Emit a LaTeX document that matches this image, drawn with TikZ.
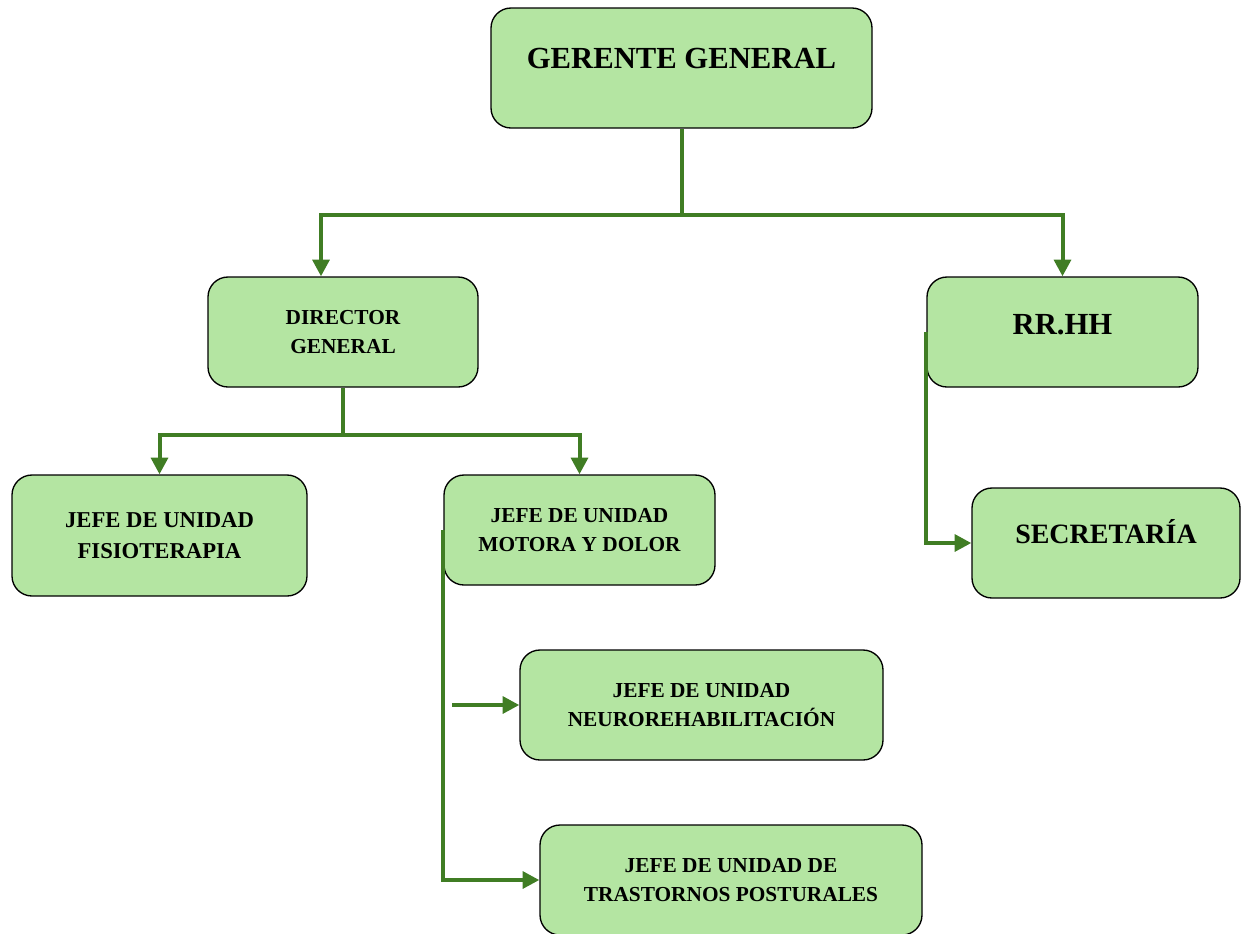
\documentclass[tikz,border=0pt]{standalone}
\usepackage{fontspec}
\setmainfont{Liberation Serif}
\usepackage{tikz}
\usetikzlibrary{arrows.meta, positioning, calc}
\definecolor{orgfill}{HTML}{B4E5A2}
\definecolor{orgline}{HTML}{407D24}

\tikzset{
  unit/.style={draw=black, line width=1pt, fill=orgfill, rounded corners=15pt,
    align=center, font=\bfseries\fontsize{16}{22}\selectfont},
  bigunit/.style={unit, font=\bfseries\fontsize{23}{28}\selectfont,
    text height=16pt, text depth=15pt},
  link/.style={orgline, line width=3pt},
  linkarrow/.style={link, -{Triangle[length=12.5pt, width=12.5pt]}}
}

\begin{document}
\begin{tikzpicture}[x=0.75pt, y=-0.75pt]
    \useasboundingbox (0,0) rectangle (1241,933);

    % Boxes
    \node[bigunit, minimum width=381*0.75pt, minimum height=120*0.75pt] (gerente) at (681.5,68) {GERENTE GENERAL};
    \node[unit, minimum width=270*0.75pt, minimum height=110*0.75pt, text depth=0pt] (director) at (343,332) {DIRECTOR\\GENERAL};
    \node[bigunit, minimum width=271*0.75pt, minimum height=110*0.75pt, text depth=12pt] (rrhh) at (1062.5,332) {RR.HH};
    \node[unit, minimum width=295*0.75pt, minimum height=121*0.75pt, font=\bfseries\fontsize{17}{23}\selectfont] (fisio) at (159.5,535.5) {JEFE DE UNIDAD\\FISIOTERAPIA};
    \node[unit, minimum width=271*0.75pt, minimum height=110*0.75pt] (motora) at (579.5,530) {JEFE DE UNIDAD\\MOTORA Y DOLOR};
    \node[bigunit, minimum width=268*0.75pt, minimum height=110*0.75pt, font=\bfseries\fontsize{21}{26}\selectfont] (secretaria) at (1106,543) {SECRETARÍA};
    \node[unit, minimum width=363*0.75pt, minimum height=110*0.75pt] (neuro) at (701.5,705) {JEFE DE UNIDAD\\NEUROREHABILITACIÓN};
    \node[unit, minimum width=382*0.75pt, minimum height=110*0.75pt] (trastornos) at (731,880) {JEFE DE UNIDAD DE\\TRASTORNOS POSTURALES};

    % Junctions
    \coordinate (gbus) at (681.5,215);
    \coordinate (dbus) at (343,435);
    \coordinate (nstart) at (452,705);

    % Gerente -> Director, RR.HH
    \draw[link] (gerente) -- (gbus);
    \draw[linkarrow] (gbus) -| ($(director.north)+(-22,0)$);
    \draw[linkarrow] (gbus) -| (rrhh.north);

    % Director -> jefes
    \draw[link] (director) -- (dbus);
    \draw[linkarrow] (dbus) -| (fisio.north);
    \draw[linkarrow] (dbus) -| (motora.north);

    % Motora y dolor -> neuro, trastornos
    \draw[linkarrow] (motora.west) |- (trastornos.west);
    \draw[linkarrow] (nstart) -- (neuro.west);

    % RR.HH -> secretaria
    \draw[linkarrow] (rrhh.west) |- (secretaria.west);
\end{tikzpicture}
\end{document}
